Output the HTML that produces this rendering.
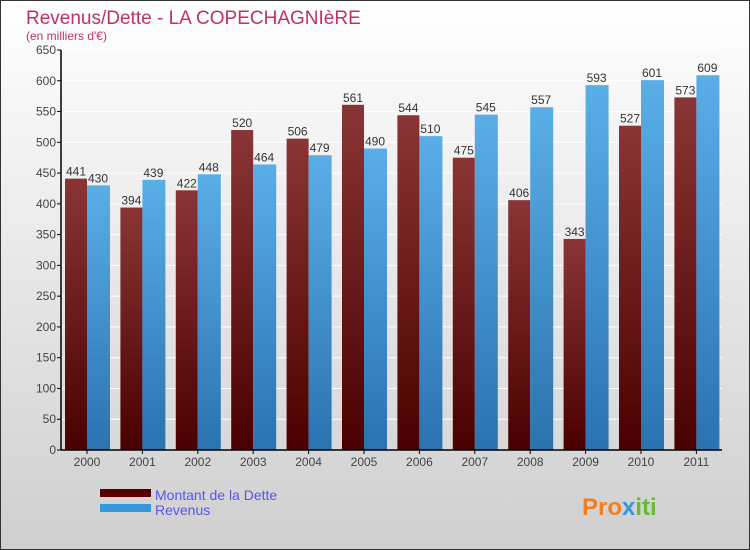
<!DOCTYPE html>
<html><head><meta charset="utf-8"><style>
body{margin:0}
svg{display:block;font-family:"Liberation Sans",sans-serif}
</style></head><body>
<svg width="750" height="550" viewBox="0 0 750 550">
<defs>
<linearGradient id="bg" x1="0" y1="0" x2="0" y2="1"><stop offset="0" stop-color="#ffffff"/><stop offset="1" stop-color="#cfcfcf"/></linearGradient>
<linearGradient id="gd" x1="0" y1="0" x2="0" y2="1"><stop offset="0" stop-color="#8a3535"/><stop offset="1" stop-color="#4a0000"/></linearGradient>
<linearGradient id="gr" x1="0" y1="0" x2="0" y2="1"><stop offset="0" stop-color="#5aaee8"/><stop offset="1" stop-color="#2a72b0"/></linearGradient>
</defs>
<rect x="0.5" y="0.5" width="749" height="549" fill="url(#bg)" stroke="#333"/>
<text x="26" y="24" font-size="19" fill="#c0306a">Revenus/Dette - LA COPECHAGNIèRE</text>
<text x="26" y="40" font-size="12" fill="#c0306a">(en milliers d'€)</text>
<g id="grid"></g><g id="bars"></g><g id="axes"></g>
<rect x="100" y="489" width="51" height="8" fill="#5a0000"/>
<rect x="100" y="504" width="51" height="8" fill="#3399dd"/>
<text x="155" y="500" font-size="14" fill="#5555ee">Montant de la Dette</text>
<text x="155" y="515" font-size="14" fill="#5555ee">Revenus</text>
<text x="582" y="515" font-size="24" font-weight="bold" fill="#f08020">Pro<tspan fill="#3399dd">x</tspan><tspan fill="#66bb33">iti</tspan></text>
</svg>
<script>
const years=["2000","2001","2002","2003","2004","2005","2006","2007","2008","2009","2010","2011"];
const dette=[441,394,422,520,506,561,544,475,406,343,527,573];
const revenus=[430,439,448,464,479,490,510,545,557,593,601,609];
const ticks=[0,50,100,150,200,250,300,350,400,450,500,550,600,650];
const NS="http://www.w3.org/2000/svg";
const y0=450,yTop=50,vMax=650,x0=61,x1=722;
const Y=v=>y0-(v/vMax)*(y0-yTop);
const X=i=>87+i*55.4;
function mk(tag,attrs,parent,txt){const e=document.createElementNS(NS,tag);for(const k in attrs)e.setAttribute(k,attrs[k]);if(txt!==undefined)e.textContent=txt;parent.appendChild(e);return e;}
const grid=document.getElementById('grid'),bars=document.getElementById('bars'),axes=document.getElementById('axes');
ticks.forEach(t=>{
  const l=mk('line',{x1:x0,x2:x1,y1:Y(t),y2:Y(t),stroke:'#ffffff','stroke-width':1},grid);
  
  
  const tk=mk('line',{x1:x0-4,x2:x0,y1:Y(t),y2:Y(t),stroke:'#000'},axes);
  
  
  const tx=mk('text',{x:x0-5,y:Y(t)+4,'font-size':12,fill:'#444','text-anchor':'end'},axes,t);
  
  
});
years.forEach((yr,i)=>{
  const c=X(i),w=22;
  const bd=mk('rect',{x:c-w,y:Y(dette[i]),width:w,height:y0-Y(dette[i]),fill:'url(#gd)'},bars);
  
  
  const br=mk('rect',{x:c,y:Y(revenus[i]),width:w+1,height:y0-Y(revenus[i]),fill:'url(#gr)'},bars);
  
  
  const ld=mk('text',{x:c-w/2,y:Y(dette[i])-3,'font-size':12,fill:'#333','text-anchor':'middle'},bars,dette[i]);
  
  
  const lr=mk('text',{x:c+w/2,y:Y(revenus[i])-3,'font-size':12,fill:'#333','text-anchor':'middle'},bars,revenus[i]);
  
  
  const xt=mk('line',{x1:c,x2:c,y1:y0,y2:y0+4,stroke:'#000'},axes);
  
  
  const xl=mk('text',{x:c,y:466,'font-size':12,fill:'#444','text-anchor':'middle'},axes,yr);
  
  
});
const ya=mk('line',{x1:x0,x2:x0,y1:yTop,y2:y0,stroke:'#000','stroke-width':1.5},axes);


const xa=mk('line',{x1:x0,x2:x1,y1:y0,y2:y0,stroke:'#000','stroke-width':1.5},axes);


</script>
</body></html>
